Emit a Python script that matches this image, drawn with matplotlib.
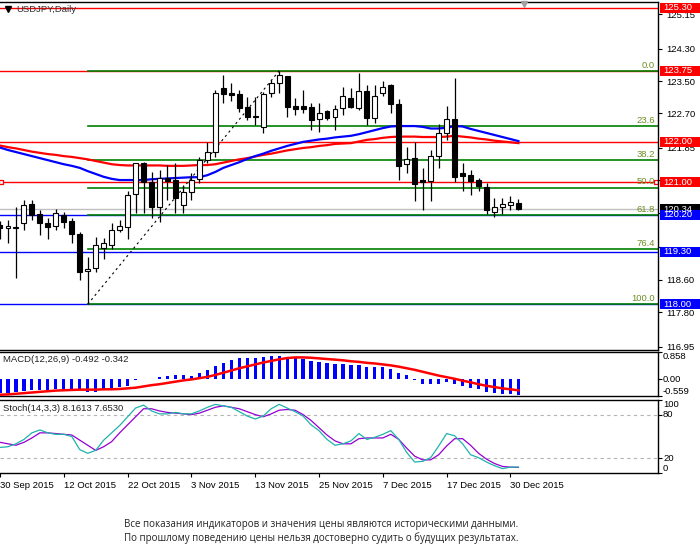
import matplotlib
matplotlib.use("Agg")
import matplotlib.pyplot as plt
from matplotlib.patches import Rectangle

plt.rcParams['font.family'] = ['Liberation Sans', 'DejaVu Sans']

# =========================
# DATA
# =========================

dates = ["30 Sep 2015", "12 Oct 2015", "22 Oct 2015", "3 Nov 2015", "13 Nov 2015",
         "25 Nov 2015", "7 Dec 2015", "17 Dec 2015", "30 Dec 2015"]
date_bars = [0, 8, 16, 24, 32, 40, 48, 56, 64]

opens = [119.95, 119.87, 119.88, 120.00, 120.47, 120.22, 120.00, 119.92, 120.20, 120.04,
         119.72, 118.83, 118.90, 119.38, 119.46, 119.84, 119.90, 120.71, 121.47, 121.02,
         120.39, 121.10, 121.06, 120.44, 120.76, 121.09, 121.55, 121.74, 123.32, 123.20,
         123.17, 122.87, 122.63, 122.37, 123.20, 123.44, 123.62, 122.88, 122.88, 122.87,
         122.56, 122.76, 122.62, 122.83, 123.07, 122.84, 123.25, 122.58, 123.20, 123.40,
         122.93, 121.45, 121.60, 121.06, 121.04, 121.66, 122.21, 122.56, 121.23, 121.18,
         121.06, 120.90, 120.28, 120.39, 120.44, 120.50]
highs = [120.05, 120.08, 120.40, 120.57, 120.57, 120.32, 120.12, 120.34, 120.28, 120.12,
         119.79, 119.17, 119.66, 119.63, 120.00, 120.08, 120.80, 121.48, 121.50, 121.27,
         121.30, 121.43, 121.48, 120.94, 121.23, 121.63, 122.00, 123.28, 123.65, 123.44,
         123.28, 123.11, 123.11, 123.24, 123.52, 123.75, 123.62, 123.07, 123.28, 122.95,
         122.95, 122.78, 122.91, 123.36, 123.32, 123.69, 123.40, 123.40, 123.50, 123.43,
         123.05, 121.87, 122.00, 121.35, 121.80, 122.44, 122.88, 123.57, 121.49, 121.31,
         121.10, 120.98, 120.63, 120.61, 120.67, 120.59]
lows = [119.60, 119.50, 118.65, 119.83, 120.08, 119.70, 119.60, 119.83, 119.88, 119.50,
        118.60, 118.00, 118.80, 119.12, 119.37, 119.78, 119.60, 120.25, 120.25, 120.13,
        120.03, 120.57, 120.26, 120.24, 120.57, 120.98, 121.47, 121.63, 122.97, 123.00,
        122.74, 122.54, 122.42, 122.23, 123.11, 123.21, 122.62, 122.66, 122.70, 122.29,
        122.25, 122.54, 122.29, 122.66, 122.83, 122.78, 122.42, 122.47, 123.13, 122.72,
        121.06, 121.23, 120.55, 120.32, 120.55, 121.35, 122.05, 121.02, 120.80, 120.69,
        120.79, 120.22, 120.16, 120.22, 120.32, 120.33]
closes = [119.88, 119.93, 119.90, 120.45, 120.20, 120.00, 119.90, 120.26, 120.02, 119.72,
          118.80, 118.87, 119.45, 119.50, 119.83, 119.92, 120.70, 121.47, 121.00, 120.39,
          121.10, 121.04, 120.62, 120.77, 121.06, 121.55, 121.74, 123.20, 123.17, 123.15,
          122.84, 122.62, 122.62, 123.17, 123.44, 123.65, 122.87, 122.80, 122.82, 122.54,
          122.70, 122.58, 122.80, 123.13, 122.87, 123.25, 122.60, 123.13, 123.36, 122.93,
          121.41, 121.57, 120.96, 121.01, 121.66, 122.21, 122.56, 121.14, 121.17, 121.04,
          120.92, 120.32, 120.40, 120.47, 120.52, 120.34]

ma_blue = [121.86, 121.80, 121.75, 121.70, 121.65, 121.60, 121.55, 121.50, 121.45, 121.41,
           121.36, 121.28, 121.21, 121.14, 121.09, 121.06, 121.06, 121.06, 121.06, 121.08,
           121.09, 121.10, 121.11, 121.12, 121.13, 121.13, 121.18, 121.26, 121.36, 121.43,
           121.50, 121.58, 121.65, 121.71, 121.78, 121.84, 121.90, 121.95, 122.00, 122.03,
           122.06, 122.08, 122.11, 122.13, 122.15, 122.19, 122.24, 122.29, 122.34, 122.38,
           122.39, 122.39, 122.39, 122.37, 122.33, 122.33, 122.35, 122.39, 122.38, 122.32,
           122.27, 122.22, 122.17, 122.12, 122.07, 122.02]
ma_red = [121.91, 121.87, 121.84, 121.80, 121.76, 121.73, 121.70, 121.68, 121.65, 121.63,
          121.60, 121.57, 121.53, 121.49, 121.45, 121.43, 121.42, 121.42, 121.42, 121.42,
          121.42, 121.41, 121.41, 121.41, 121.42, 121.43, 121.43, 121.45, 121.49, 121.53,
          121.57, 121.60, 121.64, 121.68, 121.71, 121.75, 121.79, 121.82, 121.85, 121.87,
          121.90, 121.92, 121.95, 121.96, 121.97, 122.01, 122.05, 122.07, 122.10, 122.12,
          122.13, 122.13, 122.13, 122.12, 122.12, 122.12, 122.13, 122.15, 122.13, 122.11,
          122.08, 122.06, 122.03, 122.01, 121.99, 121.97]

macd_hist = [-0.42, -0.42, -0.40, -0.37, -0.34, -0.33, -0.32, -0.31, -0.30, -0.30,
             -0.32, -0.40, -0.40, -0.34, -0.29, -0.24, -0.21, -0.03, 0.02, 0.02,
             0.08, 0.10, 0.14, 0.13, 0.12, 0.21, 0.28, 0.42, 0.52, 0.61,
             0.66, 0.68, 0.68, 0.70, 0.72, 0.74, 0.71, 0.68, 0.65, 0.57,
             0.54, 0.50, 0.47, 0.47, 0.45, 0.45, 0.39, 0.39, 0.40, 0.34,
             0.21, 0.13, -0.03, -0.14, -0.14, -0.14, -0.07, -0.14, -0.22, -0.26,
             -0.29, -0.40, -0.43, -0.46, -0.47, -0.492]
macd_signal = [-0.48, -0.47, -0.45, -0.43, -0.41, -0.39, -0.37, -0.35, -0.34, -0.33,
               -0.32, -0.32, -0.32, -0.31, -0.31, -0.30, -0.28, -0.26, -0.22, -0.18,
               -0.15, -0.11, -0.07, -0.03, 0.00, 0.04, 0.08, 0.14, 0.21, 0.28,
               0.35, 0.41, 0.47, 0.53, 0.58, 0.63, 0.67, 0.69, 0.69, 0.68,
               0.66, 0.64, 0.62, 0.60, 0.57, 0.55, 0.52, 0.50, 0.47, 0.44,
               0.40, 0.35, 0.30, 0.24, 0.18, 0.12, 0.07, 0.02, -0.04, -0.09,
               -0.15, -0.20, -0.24, -0.28, -0.31, -0.342]

stoch_k = [35, 36, 40, 46, 55, 59, 55, 53, 53, 50,
           32, 27, 31, 45, 55, 65, 77, 89, 93, 85,
           81, 81, 83, 81, 81, 85, 90, 94, 92, 90,
           84, 78, 74, 78, 88, 94, 89, 84, 78, 66,
           58, 46, 38, 40, 44, 54, 46, 49, 53, 58,
           46, 28, 15, 16, 21, 37, 54, 51, 40, 25,
           21, 15, 10, 6, 8, 8.1613]
stoch_d = [42, 40, 38, 42, 48, 55, 55, 54, 53, 52,
           45, 38, 31, 36, 43, 55, 66, 77, 88, 88,
           85, 83, 82, 81, 80, 82, 86, 90, 92, 90,
           88, 84, 80, 77, 81, 86, 87, 86, 80, 72,
           62, 52, 44, 40, 40, 47, 48, 48, 48, 53,
           46, 34, 23, 18, 18, 25, 37, 47, 47, 38,
           27, 19, 13, 9, 8, 7.6530]

price_ticks = [125.15, 124.30, 123.50, 122.70, 121.85, 121.05, 120.25, 119.40, 118.60, 117.80, 116.95]
hidden_ticks = [121.05, 120.25, 119.40]   # covered by the level boxes
red_levels = [125.30, 123.75, 122.00, 121.00]
blue_levels = [120.20, 119.30, 118.00]
last_price = 120.34

fib_high = 123.75
fib_low = 118.00
fib_pcts = [0.0, 23.6, 38.2, 50.0, 61.8, 76.4, 100.0]
fib_start_bar = 11
fib_end_bar = 35

# =========================
# LAYOUT
# =========================

W, H = 700, 552
fig = plt.figure(figsize=(W / 100, H / 100), dpi=100)
fig.patch.set_facecolor("white")


def box(top_px, bottom_px):
    return [0.0, 1 - bottom_px / H, 658 / W, (bottom_px - top_px) / H]


ax = fig.add_axes(box(2, 350))
ax_macd = fig.add_axes(box(352, 396), sharex=ax)
ax_st = fig.add_axes(box(400, 473), sharex=ax)

n = len(closes)
bars = list(range(n))

for a in (ax, ax_macd, ax_st):
    a.spines["left"].set_visible(False)
    for s in ("top", "right", "bottom"):
        a.spines[s].set_linewidth(1.0)
    a.yaxis.tick_right()
    a.tick_params(axis="y", direction="out", length=3, width=0.8, pad=3,
                  labelsize=6.8, colors="black")
    a.tick_params(axis="x", length=0)
    a.set_facecolor("white")

ax.set_xlim(0.25, 82.5)
ax.set_ylim(116.874, 125.446)
ax.set_yticks(price_ticks)
ax.set_yticklabels(["" if t in hidden_ticks else f"{t:.2f}" for t in price_ticks])
plt.setp(ax.get_xticklabels(), visible=False)
plt.setp(ax_macd.get_xticklabels(), visible=False)

# =========================
# MAIN PANEL
# =========================

ytr = ax.get_yaxis_transform()

ax.axhline(last_price, color="#c0c0c0", lw=1.0, zorder=1)
for lv in red_levels:
    ax.axhline(lv, color="#ff0000", lw=1.0, zorder=1)
for lv in blue_levels:
    ax.axhline(lv, color="#0000ff", lw=1.0, zorder=1)
ax.plot([0.002, 0.997], [121.00, 121.00], transform=ytr, ls="none", marker="s",
        ms=3.5, mfc="white", mec="#ff0000", mew=0.9, clip_on=False, zorder=2)

for p in fib_pcts:
    lv = fib_high - (fib_high - fib_low) * p / 100
    ax.plot([fib_start_bar, 82.5], [lv, lv], color="#008000", lw=1.2, zorder=1.5)
    ax.text(0.995, lv + 0.03, f"{p:.1f}", transform=ytr, ha="right", va="bottom",
            fontsize=6.8, color="#6b8e23", zorder=2)

ax.plot([fib_start_bar, fib_end_bar], [fib_low, fib_high], color="black", lw=0.8,
        ls=(0, (2, 3)), zorder=2)

ax.plot(bars, ma_red, color="#ff0000", lw=1.6, zorder=3)
ax.plot(bars, ma_blue, color="#0000ff", lw=1.6, zorder=3)

for i in bars:
    o, hi, lo, c = opens[i], highs[i], lows[i], closes[i]
    ax.vlines(i, lo, hi, color="black", lw=0.9, zorder=4)
    bottom = min(o, c)
    height = max(abs(c - o), 0.02)
    face = "white" if c >= o else "black"
    ax.add_patch(Rectangle((i - 0.31, bottom), 0.62, height, facecolor=face,
                           edgecolor="black", lw=0.8, zorder=5))

# price boxes on the right scale
box_h = 10 / 40.6


def price_box(value, color):
    ax.add_patch(Rectangle((660 / 658, value - box_h / 2), 40 / 658, box_h,
                           transform=ytr, facecolor=color, edgecolor="none",
                           clip_on=False, zorder=6))
    ax.text(663 / 658, value, f"{value:.2f}", transform=ytr, ha="left", va="center",
            fontsize=6.8, color="white", clip_on=False, zorder=7)


price_box(last_price, "black")
for lv in red_levels:
    price_box(lv, "#ff0000")
for lv in blue_levels:
    price_box(lv, "#0000ff")

ax.plot([0.012], [0.979], transform=ax.transAxes, marker="v", color="black", ms=4,
        clip_on=False, zorder=8)
ax.text(0.024, 0.979, "USDJPY,Daily", transform=ax.transAxes, ha="left", va="center",
        fontsize=6.8, color="#333333", zorder=8)
ax.plot([524 / 658], [0.994], transform=ax.transAxes, marker="v", color="#a0a0a0",
        ms=5, clip_on=False, zorder=8)

# =========================
# MACD PANEL
# =========================

ax_macd.set_ylim(-0.52, 0.86)
ax_macd.bar(bars, macd_hist, width=0.4, color="#0000ff", zorder=2)
ax_macd.plot(bars, macd_signal, color="#ff0000", lw=1.8, zorder=3)
ax_macd.set_yticks([0.86, 0.0, -0.52])
ax_macd.set_yticklabels([])
mtr = ax_macd.get_yaxis_transform()
ax_macd.text(663 / 658, 0.86, "0.858", transform=mtr, ha="left", va="top", fontsize=6.8)
ax_macd.text(663 / 658, 0.0, "0.00", transform=mtr, ha="left", va="center", fontsize=6.8)
ax_macd.text(663 / 658, -0.52, "-0.559", transform=mtr, ha="left", va="bottom", fontsize=6.8)
ax_macd.text(0.005, 0.82, "MACD(12,26,9) -0.492 -0.342", transform=ax_macd.transAxes,
             ha="left", va="center", fontsize=6.8, color="#222222", zorder=5)

# =========================
# STOCHASTIC PANEL
# =========================

ax_st.set_ylim(0, 100)
for lv in (80, 20):
    ax_st.axhline(lv, color="#b4b4b4", lw=0.8, ls=(0, (3, 3)), zorder=1)
ax_st.plot(bars, stoch_k, color="#20b2aa", lw=0.9, zorder=3)
ax_st.plot(bars, stoch_d, color="#9400d3", lw=0.9, zorder=2)
ax_st.set_yticks([100, 80, 20, 0])
ax_st.set_yticklabels([])
stt = ax_st.get_yaxis_transform()
ax_st.text(663 / 658, 100, "100", transform=stt, ha="left", va="top", fontsize=6.8)
ax_st.text(663 / 658, 80, "80", transform=stt, ha="left", va="center", fontsize=6.8)
ax_st.text(663 / 658, 20, "20", transform=stt, ha="left", va="center", fontsize=6.8)
ax_st.text(663 / 658, 0, "0", transform=stt, ha="left", va="bottom", fontsize=6.8)
ax_st.text(0.005, 0.88, "Stoch(14,3,3) 8.1613 7.6530", transform=ax_st.transAxes,
           ha="left", va="center", fontsize=6.8, color="#222222", zorder=5)

ax_st.set_xticks(date_bars)
ax_st.set_xticklabels(dates, ha="left", fontsize=6.8)
ax_st.tick_params(axis="x", direction="out", length=3, width=0.8, pad=3)

# =========================
# DISCLAIMER
# =========================

fig.text(124 / W, 1 - 524 / H,
         "Все показания индикаторов и значения цены являются историческими данными.",
         ha="left", va="center", fontsize=7, family=["Open Sans", "DejaVu Sans"],
         color="#222222")
fig.text(124 / W, 1 - 538 / H,
         "По прошлому поведению цены нельзя достоверно судить о будущих результатах.",
         ha="left", va="center", fontsize=7, family=["Open Sans", "DejaVu Sans"],
         color="#222222")

fig.savefig("out.png", dpi=100, facecolor="white")
